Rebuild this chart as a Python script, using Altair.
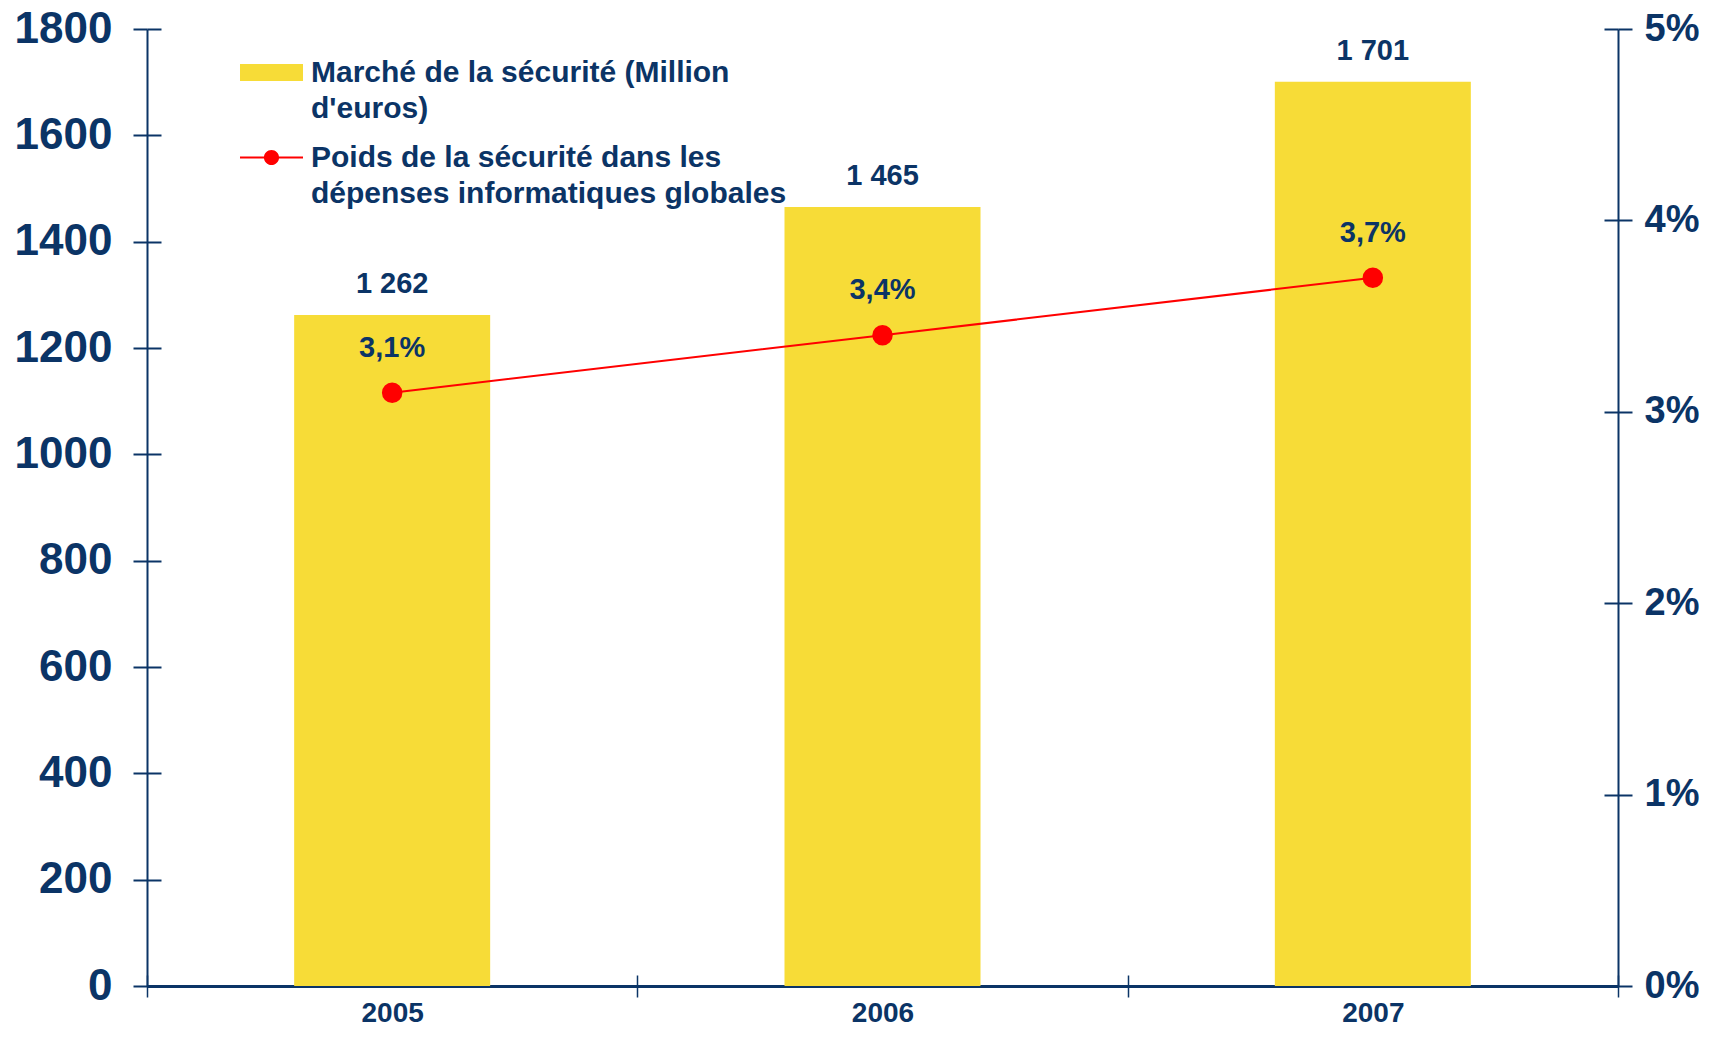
import altair as alt
import pandas as pd

years = ["2005", "2006", "2007"]
market = [1262, 1465, 1701]
share = [0.031, 0.034, 0.037]
series = [
    "Marché de la sécurité (Million|d'euros)",
    "Poids de la sécurité dans les|dépenses informatiques globales",
]
left_ticks = [0, 200, 400, 600, 800, 1000, 1200, 1400, 1600, 1800]
right_ticks = [0, 0.01, 0.02, 0.03, 0.04, 0.05]

NAVY = "#0B3466"
YELLOW = "#F7DC37"
RED = "#FF0000"
FONT = "Liberation Sans"

df = pd.DataFrame({"year": years, "market": market, "share": share})
leg = pd.DataFrame({"series": series})

xscale = alt.Scale(paddingInner=0, paddingOuter=0)

x_main = alt.X(
    "year:N", title=None, scale=xscale,
    axis=alt.Axis(
        orient="bottom", tickBand="extent", labelAngle=0, labelFontSize=28,
        labelFont=FONT, labelFontWeight="bold", labelColor=NAVY, labelPadding=2,
        tickSize=11, tickColor=NAVY, tickWidth=1.5, domainColor=NAVY, domainWidth=3,
    ),
)
x_inner = alt.X(
    "year:N", title=None, scale=xscale,
    axis=alt.Axis(
        orient="bottom", offset=-11, tickBand="extent", labels=False, domain=False,
        tickSize=11, tickColor=NAVY, tickWidth=1.5,
    ),
)
x_none = alt.X("year:N", title=None, scale=xscale, axis=None)

lscale = alt.Scale(domain=[0, 1800], nice=False)
rscale = alt.Scale(domain=[0, 0.05], nice=False)

y_left = alt.Y(
    "market:Q", scale=lscale,
    axis=alt.Axis(
        orient="left", values=left_ticks, format="d", title=None, grid=False,
        tickSize=14, tickColor=NAVY, tickWidth=2, labelPadding=21, labelFontSize=44,
        labelFont=FONT, labelFontWeight="bold", labelColor=NAVY,
        domainColor=NAVY, domainWidth=2,
    ),
)
y_left_inner = alt.Y(
    "market:Q", scale=lscale,
    axis=alt.Axis(
        orient="left", offset=-14, values=left_ticks, title=None, grid=False,
        labels=False, domain=False, tickSize=14, tickColor=NAVY, tickWidth=2,
    ),
)
y_right = alt.Y(
    "share:Q", scale=rscale,
    axis=alt.Axis(
        orient="right", values=right_ticks, format=".0%", title=None, grid=False,
        tickSize=14, tickColor=NAVY, tickWidth=2, labelPadding=12,
        labelFontSize=38, labelFont=FONT, labelFontWeight="bold",
        labelColor=NAVY, domainColor=NAVY, domainWidth=2,
    ),
)
y_right_inner = alt.Y(
    "share:Q", scale=rscale,
    axis=alt.Axis(
        orient="right", offset=-14, values=right_ticks, title=None, grid=False,
        labels=False, domain=False, tickSize=14, tickColor=NAVY, tickWidth=2,
    ),
)

base = alt.Chart(df)

bars = base.mark_bar(color=YELLOW, size=196).encode(x=x_main, y=y_left)
bar_labels = base.transform_calculate(
    lbl="replace(format(datum.market, ','), ',', ' ')"
).mark_text(
    baseline="alphabetic", dy=-22, fontSize=29, font=FONT, fontWeight="bold", color=NAVY
).encode(x=x_inner, y=y_left_inner, text="lbl:N")

line = base.mark_line(color=RED, strokeWidth=2).encode(x=x_none, y=y_right)
points = base.mark_circle(color=RED, size=420, opacity=1).encode(x=x_none, y=y_right_inner)
pct_labels = base.transform_calculate(
    lbl="replace(format(datum.share, '.1%'), '.', ',')"
).mark_text(
    baseline="alphabetic", dy=-36, fontSize=29, font=FONT, fontWeight="bold", color=NAVY
).encode(x=x_none, y=alt.Y("share:Q", scale=rscale, axis=None), text="lbl:N")

rect_path = "M-1,-0.27H1V0.27H-1Z"
line_path = "M-1,-0.035H1V0.035H-1Z M-0.24,0A0.24,0.24 0 1,1 0.24,0A0.24,0.24 0 1,1 -0.24,0Z"

legend = alt.Legend(
    title=None, orient="none", legendX=93, legendY=12, direction="vertical",
    labelExpr="split(datum.label, '|')", labelFontSize=30, labelFont=FONT,
    labelFontWeight="bold", labelColor=NAVY, labelLimit=900, symbolSize=3969,
    symbolOpacity=1, symbolStrokeWidth=0, labelOffset=8, rowPadding=2,
)

legend_layer = alt.Chart(leg).mark_point(filled=True, opacity=0).encode(
    x=alt.value(0),
    y=alt.value(0),
    color=alt.Color("series:N", scale=alt.Scale(domain=series, range=[YELLOW, RED]), legend=legend),
    shape=alt.Shape("series:N", scale=alt.Scale(domain=series, range=[rect_path, line_path]), legend=legend),
)

chart = (
    alt.layer(bars, bar_labels, line, points, pct_labels, legend_layer)
    .resolve_scale(y="independent")
    .resolve_axis(x="independent", y="independent")
    .properties(
        width=1471, height=957,
        autosize=alt.AutoSizeParams(type="none"),
        padding={"left": 139, "top": 21, "right": 86, "bottom": 46},
        background="white",
    )
    .configure(
        view=alt.ViewConfig(stroke=None),
        style={"guide-label": alt.MarkConfig(lineHeight=36)},
    )
)

chart.save("out.html", embed_options={"renderer": "svg", "actions": False})
